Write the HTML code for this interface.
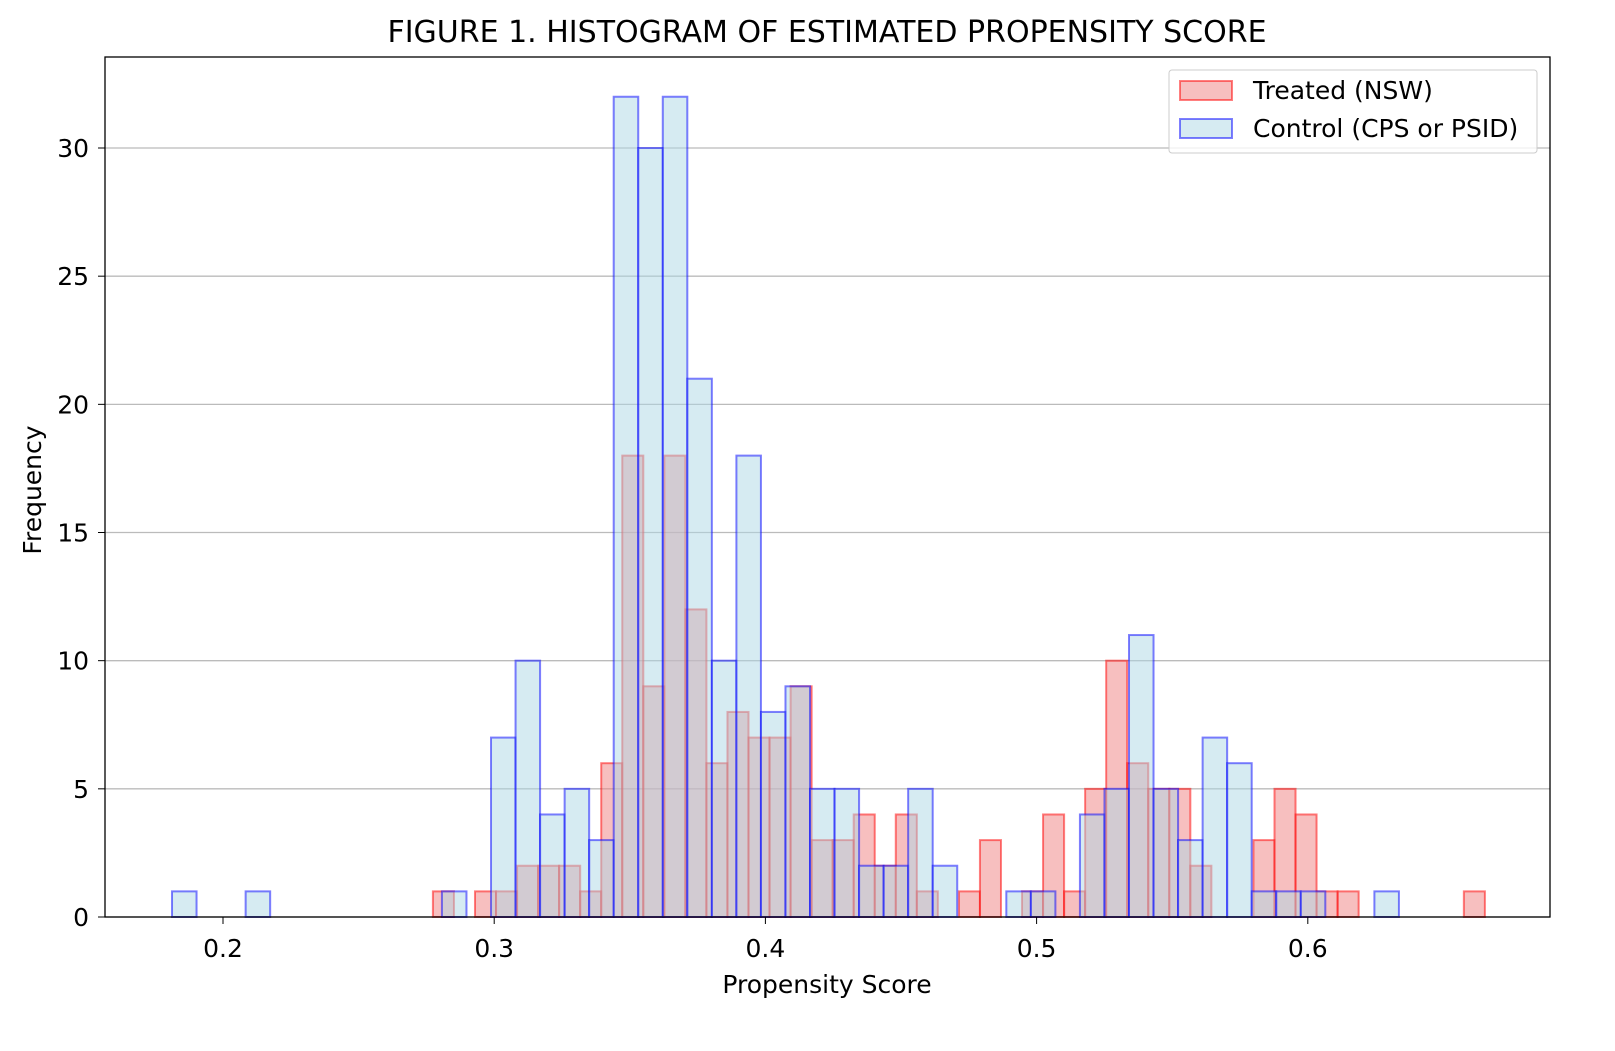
<!DOCTYPE html>
<html><head><meta charset="utf-8"><style>
body{margin:0;background:#fff;font-family:"Liberation Sans","DejaVu Sans",sans-serif}
</style></head><body>
<svg width="1615" height="1046" xmlns="http://www.w3.org/2000/svg" font-family="DejaVu Sans, Liberation Sans, sans-serif">
<rect width="1615" height="1046" fill="#fff"/>
<text x="827" y="42" text-anchor="middle" font-size="30">FIGURE 1. HISTOGRAM OF ESTIMATED PROPENSITY SCORE</text>
<g id="grid"></g>
<g id="bars"></g>
<rect x="105" y="57" width="1445" height="860" fill="none" stroke="#000" stroke-width="1.3"/>
<g id="axes" font-size="25"></g>
<text x="827" y="993" text-anchor="middle" font-size="25">Propensity Score</text>
<text transform="translate(41,490) rotate(-90)" text-anchor="middle" font-size="25">Frequency</text>
<g>
<rect x="1169" y="70" width="368" height="83" fill="#fff" fill-opacity="0.8" stroke="#ccc" rx="3"/>
<g>
<rect x="1180" y="81" width="52" height="19" fill="rgba(240,128,128,0.5)" stroke="rgba(255,0,0,0.5)" stroke-width="2"/>
<text x="1253" y="99" font-size="25">Treated (NSW)</text></g>
<g>
<rect x="1180" y="119" width="52" height="19" fill="rgba(173,216,230,0.5)" stroke="rgba(0,0,255,0.5)" stroke-width="2"/>
<text x="1253" y="137" font-size="25">Control (CPS or PSID)</text></g>
</g>
</svg>
<script>
const treatedCounts=[1,0,1,1,2,2,2,1,6,18,9,18,12,6,8,7,7,9,3,3,4,2,4,1,0,1,3,0,1,4,1,5,10,6,5,5,2,0,0,3,5,4,1,1,0,0,0,0,0,1];
const treatedRange=[0.2774,0.6653];
const controlCounts=[1,0,0,1,0,0,0,0,0,0,0,1,0,7,10,4,5,3,32,30,32,21,10,18,8,9,5,5,2,2,5,2,0,0,1,1,0,4,5,11,5,3,7,6,1,1,1,0,0,1];
const controlRange=[0.1812,0.6336];
const xTicks=[0.2,0.3,0.4,0.5,0.6];
const yTicks=[0,5,10,15,20,25,30];
const NS="http://www.w3.org/2000/svg";
const X=v=>223+(v-0.2)*2712;
const Y=v=>917-v*25.633;
const grid=document.getElementById('grid'),bars=document.getElementById('bars'),axes=document.getElementById('axes');
function mk(tag,at,parent){const e=document.createElementNS(NS,tag);for(const k in at)e.setAttribute(k,at[k]);parent.appendChild(e);return e;}
yTicks.forEach(t=>{
 const l=mk('line',{x1:105,x2:1550,y1:Y(t),y2:Y(t),stroke:'#bbb','stroke-width':1.3},grid);
 
 
 mk('line',{x1:98,x2:105,y1:Y(t),y2:Y(t),stroke:'#000'},axes);
 const tx=mk('text',{x:89,y:Y(t)+9,'text-anchor':'end'},axes);tx.textContent=t;
 
 
});
xTicks.forEach(t=>{
 mk('line',{x1:X(t),x2:X(t),y1:917,y2:924,stroke:'#000'},axes);
 const tx=mk('text',{x:X(t),y:957,'text-anchor':'middle'},axes);tx.textContent=t.toFixed(1);
 
 
});
function draw(counts,range,fill,stroke,name){
 const w=(range[1]-range[0])/counts.length;
 counts.forEach((c,i)=>{
  if(!c)return;
  const x0=X(range[0]+i*w),x1=X(range[0]+(i+1)*w);
  const r=mk('rect',{x:x0,y:Y(c),width:x1-x0,height:Y(0)-Y(c),fill:fill,stroke:stroke,'stroke-width':2},bars);
  
  
 });
}
draw(treatedCounts,treatedRange,'rgba(240,128,128,0.5)','rgba(255,0,0,0.5)','treated-bar');
draw(controlCounts,controlRange,'rgba(173,216,230,0.5)','rgba(0,0,255,0.5)','control-bar');
</script>
</body></html>
